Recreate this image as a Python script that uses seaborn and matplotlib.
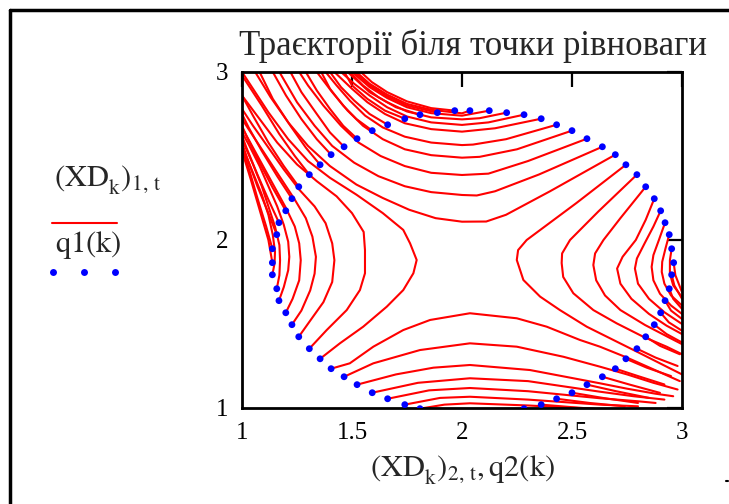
import pandas as pd
import matplotlib
matplotlib.use("Agg")
import matplotlib.pyplot as plt
import seaborn as sns
from matplotlib.lines import Line2D

# blue dots: q2(k) on x, q1(k) on y
q2 = [1.967, 2.036, 2.124, 2.203, 2.282, 2.360, 2.430, 2.500, 2.568, 2.638, 2.697, 2.745,
      2.795, 2.835, 2.874, 2.903, 2.923, 2.942, 2.953, 2.962, 2.953, 2.942, 2.923, 2.903,
      2.874, 2.835, 2.795, 2.745, 2.697, 2.638, 2.568, 2.500, 2.430, 2.360, 2.282,
      1.809, 1.740, 1.662, 1.592, 1.523, 1.464, 1.405, 1.355, 1.306, 1.258, 1.227, 1.199,
      1.168, 1.158, 1.138, 1.138, 1.138, 1.158, 1.168, 1.199, 1.227, 1.258, 1.306, 1.355,
      1.405, 1.464, 1.523, 1.592, 1.662, 1.740, 1.809, 1.888]
q1 = [2.770, 2.770, 2.770, 2.758, 2.746, 2.722, 2.686, 2.651, 2.603, 2.555, 2.508, 2.448,
      2.389, 2.317, 2.246, 2.174, 2.103, 2.032, 1.948, 1.865, 1.793, 1.710, 1.639, 1.567,
      1.496, 1.424, 1.353, 1.293, 1.234, 1.186, 1.139, 1.091, 1.055, 1.020, 0.996,
      0.996, 1.020, 1.055, 1.091, 1.139, 1.186, 1.234, 1.293, 1.353, 1.424, 1.496, 1.567,
      1.639, 1.710, 1.793, 1.865, 1.948, 2.032, 2.103, 2.174, 2.246, 2.317, 2.389, 2.448,
      2.508, 2.555, 2.603, 2.651, 2.686, 2.722, 2.746, 2.758]

# trajectories (XD_k)_{2,t}, (XD_k)_{1,t} as (x, y) points
top_curves = [
    [(2.697, 2.508), (2.40, 2.29), (2.20, 2.15), (2.11, 2.11), (2.0, 2.109), (1.88, 2.13), (1.76, 2.18),
     (1.64, 2.25), (1.52, 2.33), (1.40, 2.44), (1.30, 2.56), (1.21, 2.70), (1.13, 2.85), (1.06, 3.0)],
    [(2.638, 2.555), (2.35, 2.39), (2.15, 2.29), (2.067, 2.265), (2.0, 2.268), (1.86, 2.285), (1.74, 2.32),
     (1.62, 2.38), (1.51, 2.46), (1.41, 2.56), (1.33, 2.68), (1.25, 2.82), (1.17, 3.0)],
    [(2.568, 2.603), (2.30, 2.47), (2.12, 2.395), (2.0, 2.387), (1.86, 2.40), (1.74, 2.44), (1.63, 2.50),
     (1.53, 2.58), (1.45, 2.68), (1.37, 2.80), (1.30, 2.92), (1.26, 3.0)],
    [(2.500, 2.651), (2.25, 2.54), (2.08, 2.495), (2.0, 2.49), (1.86, 2.505), (1.74, 2.54), (1.64, 2.60),
     (1.55, 2.68), (1.48, 2.77), (1.41, 2.88), (1.34, 3.0)],
    [(2.430, 2.686), (2.20, 2.60), (2.05, 2.568), (2.0, 2.565), (1.86, 2.58), (1.74, 2.615), (1.64, 2.67),
     (1.56, 2.74), (1.49, 2.83), (1.43, 2.92), (1.38, 3.0)],
    [(2.360, 2.722), (2.15, 2.665), (2.0, 2.645), (1.86, 2.66), (1.74, 2.695), (1.65, 2.75), (1.57, 2.82),
     (1.50, 2.90), (1.42, 3.0)],
    [(2.282, 2.746), (2.12, 2.70), (2.0, 2.685), (1.86, 2.70), (1.75, 2.735), (1.66, 2.79), (1.58, 2.86),
     (1.51, 2.93), (1.45, 3.0)],
    [(2.203, 2.758), (2.08, 2.725), (2.0, 2.718), (1.86, 2.73), (1.75, 2.765), (1.66, 2.82), (1.58, 2.88),
     (1.48, 3.0)],
    [(2.124, 2.770), (2.0, 2.74), (1.86, 2.755), (1.75, 2.79), (1.66, 2.845), (1.58, 2.91), (1.50, 3.0)],
    [(2.036, 2.770), (2.0, 2.754), (1.86, 2.775), (1.75, 2.81), (1.66, 2.865), (1.58, 2.93), (1.52, 3.0)],
]

left_curves = [
    [(1.355, 1.293), (1.445, 1.385), (1.551, 1.484), (1.658, 1.603), (1.733, 1.702), (1.779, 1.802),
     (1.794, 1.881), (1.764, 1.98), (1.733, 2.06), (1.64, 2.16), (1.52, 2.27), (1.40, 2.37), (1.30, 2.47),
     (1.21, 2.60), (1.12, 2.76), (1.04, 2.92), (1.0, 3.0)],
    [(1.306, 1.353), (1.385, 1.464), (1.476, 1.583), (1.536, 1.702), (1.559, 1.802), (1.559, 1.94),
     (1.553, 2.048), (1.50, 2.16), (1.43, 2.26), (1.34, 2.35), (1.25, 2.45), (1.16, 2.58), (1.08, 2.72),
     (1.0, 2.86)],
    [(1.258, 1.424), (1.31, 1.52), (1.37, 1.63), (1.41, 1.75), (1.42, 1.88), (1.41, 1.98), (1.38, 2.10),
     (1.33, 2.20), (1.26, 2.30), (1.19, 2.42), (1.12, 2.55), (1.05, 2.68), (1.0, 2.78)],
    [(1.227, 1.496), (1.27, 1.58), (1.31, 1.70), (1.33, 1.80), (1.336, 1.90), (1.32, 2.02), (1.29, 2.13),
     (1.24, 2.24), (1.18, 2.36), (1.12, 2.48), (1.06, 2.60), (1.0, 2.72)],
    [(1.199, 1.567), (1.23, 1.65), (1.26, 1.76), (1.267, 1.88), (1.26, 1.98), (1.24, 2.08), (1.20, 2.19),
     (1.15, 2.31), (1.10, 2.43), (1.05, 2.55), (1.0, 2.67)],
    [(1.168, 1.639), (1.19, 1.72), (1.21, 1.82), (1.215, 1.90), (1.21, 1.99), (1.19, 2.09), (1.16, 2.20),
     (1.12, 2.32), (1.08, 2.44), (1.03, 2.57), (1.0, 2.64)],
    [(1.158, 1.710), (1.17, 1.79), (1.173, 1.88), (1.17, 1.97), (1.15, 2.08), (1.12, 2.20), (1.09, 2.32),
     (1.05, 2.45), (1.0, 2.60)],
    [(1.138, 1.793), (1.148, 1.86), (1.15, 1.93), (1.14, 2.03), (1.12, 2.15), (1.09, 2.27), (1.05, 2.40),
     (1.0, 2.56)],
]

right_curves = [
    [(2.745, 2.448), (2.52, 2.22), (2.294, 2.0), (2.255, 1.94), (2.249, 1.881), (2.279, 1.762), (2.355, 1.663),
     (2.445, 1.583), (2.567, 1.484), (2.688, 1.405), (2.809, 1.326), (2.93, 1.246), (3.0, 1.20)],
    [(2.795, 2.389), (2.62, 2.17), (2.491, 2.0), (2.455, 1.92), (2.453, 1.863), (2.46, 1.78), (2.506, 1.683),
     (2.597, 1.583), (2.703, 1.504), (2.824, 1.424), (2.93, 1.365), (3.0, 1.32)],
    [(2.835, 2.317), (2.72, 2.13), (2.643, 2.0), (2.605, 1.92), (2.597, 1.851), (2.61, 1.76), (2.65, 1.67),
     (2.72, 1.583), (2.832, 1.494), (2.945, 1.417), (3.0, 1.38)],
    [(2.874, 2.246), (2.835, 2.12), (2.79, 2.0), (2.73, 1.90), (2.705, 1.83), (2.72, 1.74), (2.77, 1.65),
     (2.85, 1.56), (2.93, 1.49), (3.0, 1.44)],
    [(2.903, 2.174), (2.87, 2.08), (2.83, 1.98), (2.795, 1.89), (2.786, 1.83), (2.80, 1.74), (2.85, 1.65),
     (2.92, 1.57), (3.0, 1.50)],
    [(2.923, 2.103), (2.895, 2.0), (2.87, 1.91), (2.862, 1.84), (2.87, 1.76), (2.90, 1.68), (2.95, 1.61),
     (3.0, 1.56)],
    [(2.942, 2.032), (2.925, 1.95), (2.91, 1.87), (2.908, 1.81), (2.92, 1.74), (2.95, 1.67), (3.0, 1.61)],
    [(2.953, 1.948), (2.945, 1.88), (2.945, 1.80), (2.96, 1.73), (3.0, 1.66)],
]

bottom_curves = [
    [(1.405, 1.234), (1.49, 1.266), (1.597, 1.365), (1.733, 1.464), (1.855, 1.524), (2.036, 1.564),
     (2.249, 1.534), (2.385, 1.484), (2.536, 1.405), (2.627, 1.365), (2.75, 1.30), (2.87, 1.23), (2.99, 1.16)],
    [(1.464, 1.186), (1.597, 1.266), (1.809, 1.345), (2.036, 1.385), (2.249, 1.365), (2.461, 1.305),
     (2.627, 1.246), (2.75, 1.20), (2.87, 1.15), (2.98, 1.11)],
    [(1.523, 1.139), (1.70, 1.20), (1.87, 1.24), (2.036, 1.256), (2.309, 1.226), (2.627, 1.147), (2.75, 1.115),
     (2.88, 1.085), (2.96, 1.07)],
    [(1.592, 1.091), (1.80, 1.15), (2.036, 1.177), (2.30, 1.16), (2.627, 1.097), (2.78, 1.07), (2.92, 1.05)],
    [(1.662, 1.055), (1.85, 1.105), (2.036, 1.119), (2.30, 1.10), (2.627, 1.058), (2.80, 1.04), (2.88, 1.03)],
    [(1.740, 1.020), (1.90, 1.06), (2.036, 1.067), (2.30, 1.05), (2.627, 1.02), (2.80, 1.01)],
    [(1.809, 0.996), (1.92, 1.02), (2.036, 1.028), (2.30, 1.015), (2.60, 0.995)],
]

# short runs from the upper-left and lower-right dots
upper_left_curves = [
    [(1.967, 2.770), (1.86, 2.785), (1.75, 2.825), (1.66, 2.88), (1.59, 2.94), (1.54, 3.0)],
    [(1.888, 2.758), (1.75, 2.80), (1.66, 2.855), (1.58, 2.92), (1.51, 3.0)],
    [(1.809, 2.746), (1.70, 2.79), (1.62, 2.85), (1.55, 2.92), (1.49, 3.0)],
    [(1.740, 2.722), (1.65, 2.77), (1.57, 2.84), (1.50, 2.92), (1.465, 3.0)],
    [(1.662, 2.686), (1.58, 2.75), (1.51, 2.83), (1.45, 2.91), (1.40, 3.0)],
    [(1.592, 2.651), (1.52, 2.72), (1.46, 2.80), (1.40, 2.90), (1.36, 3.0)],
    [(1.523, 2.603), (1.46, 2.68), (1.40, 2.78), (1.34, 2.89), (1.29, 3.0)],
    [(1.464, 2.555), (1.40, 2.64), (1.34, 2.75), (1.27, 2.88), (1.22, 3.0)],
    [(1.405, 2.508), (1.34, 2.60), (1.27, 2.72), (1.20, 2.86), (1.14, 3.0)],
    [(1.355, 2.448), (1.29, 2.55), (1.22, 2.68), (1.14, 2.84), (1.08, 3.0)],
    [(1.306, 2.389), (1.24, 2.50), (1.17, 2.63), (1.09, 2.80), (1.0, 2.98)],
    [(1.258, 2.317), (1.19, 2.44), (1.12, 2.58), (1.05, 2.74), (1.0, 2.86)],
    [(1.227, 2.246), (1.16, 2.38), (1.09, 2.53), (1.03, 2.67), (1.0, 2.75)],
    [(1.199, 2.174), (1.14, 2.31), (1.08, 2.46), (1.02, 2.62), (1.0, 2.68)],
    [(1.168, 2.103), (1.12, 2.24), (1.07, 2.39), (1.02, 2.55), (1.0, 2.62)],
    [(1.158, 2.032), (1.12, 2.16), (1.07, 2.32), (1.02, 2.50), (1.0, 2.58)],
    [(1.138, 1.948), (1.11, 2.08), (1.07, 2.25), (1.03, 2.43), (1.0, 2.55)],
    [(1.138, 1.865), (1.12, 2.00), (1.08, 2.18), (1.04, 2.36), (1.0, 2.53)],
]

lower_right_curves = [
    [(2.962, 1.865), (2.97, 1.79), (3.0, 1.69)],
    [(2.953, 1.793), (2.965, 1.73), (3.0, 1.65)],
    [(2.942, 1.710), (2.96, 1.65), (3.0, 1.59)],
    [(2.923, 1.639), (2.95, 1.58), (3.0, 1.53)],
    [(2.903, 1.567), (2.94, 1.51), (3.0, 1.46)],
    [(2.874, 1.496), (2.93, 1.44), (3.0, 1.39)],
    [(2.835, 1.424), (2.90, 1.37), (2.99, 1.32)],
    [(2.795, 1.353), (2.88, 1.30), (2.98, 1.25)],
    [(2.745, 1.293), (2.84, 1.24), (2.95, 1.19)],
    [(2.697, 1.234), (2.80, 1.19), (2.92, 1.14)],
    [(2.638, 1.186), (2.76, 1.14), (2.90, 1.09)],
    [(2.568, 1.139), (2.70, 1.10), (2.85, 1.06)],
    [(2.500, 1.091), (2.64, 1.06), (2.80, 1.03)],
    [(2.430, 1.055), (2.58, 1.03), (2.74, 1.01)],
    [(2.360, 1.020), (2.50, 1.005), (2.65, 0.99)],
]

rows = []
cid = 0
for family in [top_curves, left_curves, right_curves, bottom_curves, upper_left_curves, lower_right_curves]:
    for curve in family:
        for x, y in curve:
            rows.append((cid, x, y))
        cid += 1
traj = pd.DataFrame(rows, columns=['curve', 'x', 'y'])

sns.set_style('white')
plt.rcParams['font.family'] = ['Liberation Serif', 'DejaVu Serif']
plt.rcParams['mathtext.fontset'] = 'stix'

fig = plt.figure(figsize=(7.29, 5.04), dpi=100)
ax = fig.add_axes([242 / 729, 96 / 504, 440 / 729, 336 / 504])

sns.lineplot(data=traj, x='x', y='y', units='curve', estimator=None, sort=False,
             color='red', linewidth=1.5, ax=ax, legend=False)
sns.scatterplot(x=q2, y=q1, color='blue', s=24, edgecolor='none', ax=ax, zorder=3)

ax.set_xlim(1, 3)
ax.set_ylim(1, 3)
ax.set_xticks([1, 1.5, 2, 2.5, 3])
ax.set_xticklabels(['1', '1.5', '2', '2.5', '3'])
ax.set_yticks([1, 2, 3])
ax.set_yticklabels(['1', '2', '3'])
ax.tick_params(direction='in', length=11, width=1.6, top=True, right=True,
               labelsize=18, pad=10, colors='black')
for sp in ax.spines.values():
    sp.set_linewidth(2)
    sp.set_color('black')
ax.set_xlabel('')
ax.set_ylabel('')

fig.text(473 / 729, 1 - 46 / 504, 'Траєкторії біля точки рівноваги', ha='center', va='center', fontsize=25)

# axis labels in Mathcad style
fig.text(463 / 729, 1 - 470 / 504,
         r'$\left(\mathrm{XD}_{\mathrm{k}}^{\ }\right)_{2,\,\mathrm{t}}, \mathrm{q2(k)}$',
         ha='center', va='center', fontsize=22)
fig.text(54 / 729, 1 - 180 / 504, r'$\left(\mathrm{XD}_{\mathrm{k}}^{\ }\right)_{1,\,\mathrm{t}}$',
         ha='left', va='center', fontsize=22)
fig.add_artist(Line2D([52 / 729, 117 / 729], [1 - 223 / 504] * 2, color='red', lw=1.5))
fig.text(55 / 729, 1 - 245 / 504, r'$\mathrm{q1(k)}$', ha='left', va='center', fontsize=22)
fig.add_artist(Line2D([53 / 729, 84 / 729, 115 / 729], [1 - 272 / 504] * 3, color='blue',
                      lw=0, marker='o', markersize=5, markeredgewidth=0))

# outer frame of the worksheet region, plus the stray mark at the right edge
fig.add_artist(Line2D([10 / 729, 10 / 729], [0, 1 - 10 / 504], color='black', lw=2.5))
fig.add_artist(Line2D([10 / 729, 1], [1 - 10 / 504] * 2, color='black', lw=2.5))
fig.add_artist(Line2D([726 / 729, 728 / 729], [1 - 481 / 504] * 2, color='black', lw=1.5))

fig.savefig('out.png', dpi=100)
